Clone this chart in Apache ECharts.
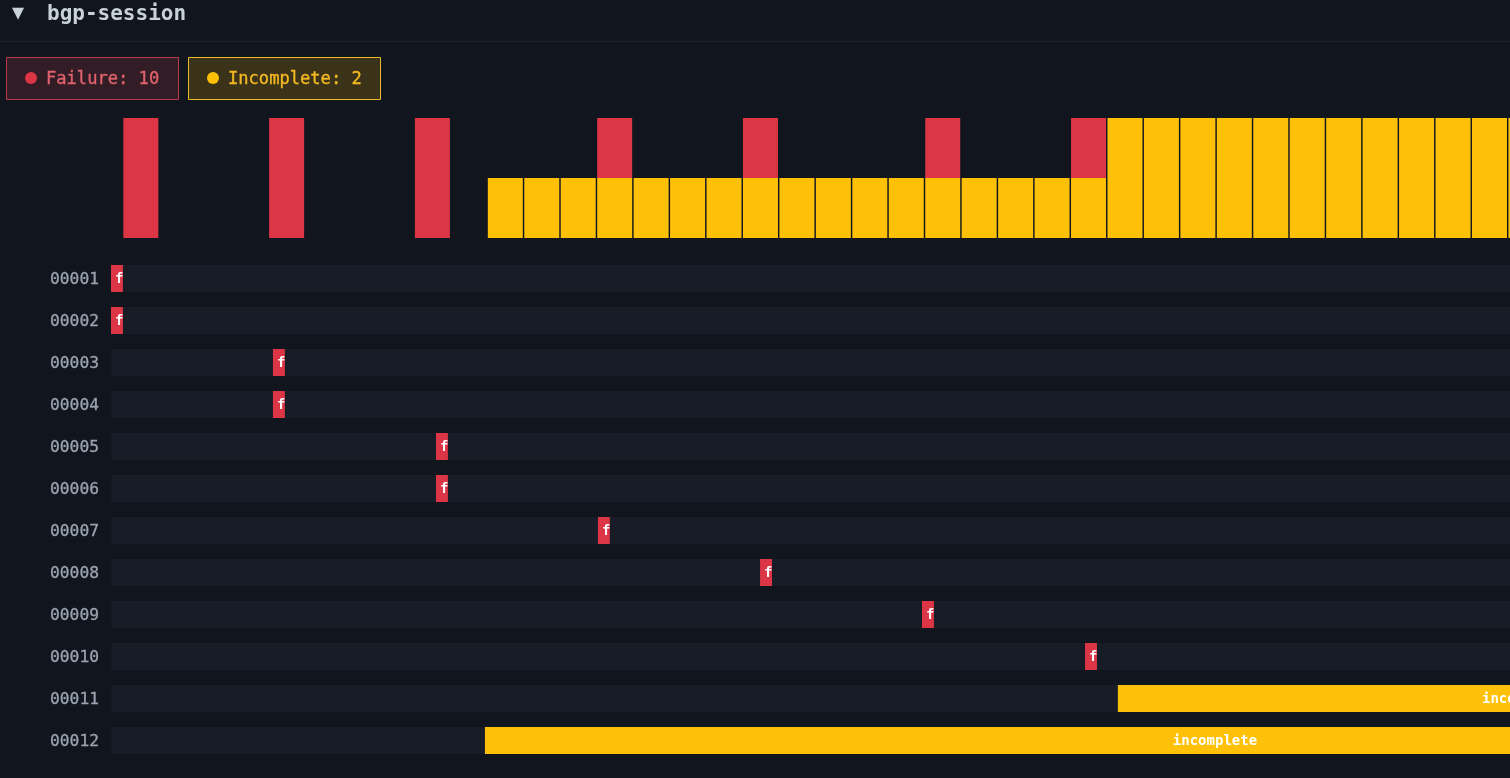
<!DOCTYPE HTML>
<html>
<head>
    <meta charset="utf-8">
    <title>bgp-session</title>
    <style>
        html, body { margin: 0; padding: 0; background: #11161e; overflow: hidden; }
        #container { width: 1510px; height: 778px; }
    </style>
</head>
<body>
<div id="container"></div>
<script src="https://cdn.jsdelivr.net/npm/echarts@6/dist/echarts.min.js"></script>
<script>
    var MONO = '"DejaVu Sans Mono", monospace';
    var RED = '#dc3545';
    var YELLOW = '#ffc107';

    // histogram bins
    var binLabels = [];
    for (var b = 0; b < 50; b++) binLabels.push('b' + b);
    var failureBins = [2,0,0,0,2,0,0,0,2,0, 0,0,0,1,0,0,0,1,0,0, 0,0,1,0,0,0,1,0,0,0, 0,0,0,0,0,0,0,0,0,0, 0,0,0,0,0,0,0,0,0,0];
    var incompleteBins = [0,0,0,0,0,0,0,0,0,0, 1,1,1,1,1,1,1,1,1,1, 1,1,1,1,1,1,1,2,2,2, 2,2,2,2,2,2,2,2,2,2, 2,2,2,2,2,2,2,2,2,2];

    // timeline rows
    var rowNames = ['00001','00002','00003','00004','00005','00006','00007','00008','00009','00010','00011','00012'];
    var rowStatus = ['failure','failure','failure','failure','failure','failure','failure','failure','failure','failure','incomplete','incomplete'];
    var rowStart = [0, 0, 88.3, 88.3, 177.2, 177.2, 265.5, 353.9, 442.2, 531.1, 549, 203.9];
    var rowEnd = [6.5, 6.5, 94.8, 94.8, 183.7, 183.7, 272, 360.4, 448.7, 537.6, 992, 1000];

    var failureCount = rowStatus.filter(function (s) { return s === 'failure'; }).length;
    var incompleteCount = rowStatus.filter(function (s) { return s === 'incomplete'; }).length;

    function legendBox(x, width, color, border, fill, textColor, text) {
        return {
            type: 'group',
            children: [
                { type: 'rect', shape: { x: x + 0.5, y: 57.5, width: width, height: 42 }, style: { fill: fill, stroke: border, lineWidth: 1 } },
                { type: 'circle', shape: { cx: x + 25, cy: 78, r: 6 }, style: { fill: color } },
                {
                    type: 'text', x: x + 40, y: 80,
                    style: { text: text, fill: textColor, font: '17.1px ' + MONO, verticalAlign: 'middle', stroke: textColor, lineWidth: 0.35 }
                }
            ]
        };
    }

    function renderRow(params, api) {
        var row = api.value(0);
        var startPt = api.coord([api.value(1), row]);
        var endPt = api.coord([api.value(2), row]);
        var trackLeft = api.coord([0, row])[0];
        var trackRight = api.coord([1000, row])[0];
        var h = 27;
        var top = startPt[1] - h / 2;
        var status = rowStatus[params.dataIndex];
        var w = endPt[0] - startPt[0];
        var fits = w > 90;
        return {
            type: 'group',
            children: [
                { type: 'rect', shape: { x: trackLeft + 0.5, y: top, width: trackRight - trackLeft, height: h }, style: { fill: '#181c27' } },
                { type: 'rect', shape: { x: startPt[0], y: top, width: w, height: h }, style: { fill: status === 'failure' ? RED : YELLOW } },
                {
                    type: 'group',
                    clipPath: { type: 'rect', shape: { x: startPt[0], y: top, width: w, height: h } },
                    children: [{
                        type: 'text',
                        x: fits ? startPt[0] + w / 2 : startPt[0] + 4,
                        y: startPt[1] + 1,
                        style: {
                            text: status,
                            fill: '#ffffff',
                            font: 'bold 14px ' + MONO,
                            align: fits ? 'center' : 'left',
                            verticalAlign: 'middle'
                        }
                    }]
                }
            ]
        };
    }

    var myChart = echarts.init(document.getElementById('container'), null, { renderer: 'canvas' });
    var option = {
        animation: false,
        backgroundColor: '#11161e',
        graphic: [
            { type: 'text', x: 12, y: 14, style: { text: '▼', fill: '#c9d1d9', font: '20px ' + MONO, verticalAlign: 'middle' } },
            { type: 'text', x: 47, y: 15, style: { text: 'bgp-session', fill: '#c9d1d9', font: 'bold 21px ' + MONO, verticalAlign: 'middle' } },
            { type: 'rect', shape: { x: 0, y: 41, width: 1510, height: 1 }, style: { fill: '#1e232c' } },
            legendBox(6, 172, RED, '#b93a4a', '#321c26', '#e0626c', 'Failure: ' + failureCount),
            legendBox(188, 192, YELLOW, '#e9bb2c', '#3a331a', '#f5b921', 'Incomplete: ' + incompleteCount)
        ],
        grid: [
            { left: 122.6, top: 118, width: 1822.5, height: 120, outerBoundsMode: 'none' },
            { left: 111, top: 257.5, width: 1834, height: 504, outerBoundsMode: 'none' }
        ],
        xAxis: [
            { gridIndex: 0, type: 'category', data: binLabels, show: false },
            { gridIndex: 1, type: 'value', min: 0, max: 1000, show: false }
        ],
        yAxis: [
            { gridIndex: 0, type: 'value', min: 0, max: 2, show: false },
            {
                gridIndex: 1,
                type: 'category',
                inverse: true,
                data: rowNames,
                axisLine: { show: false },
                axisTick: { show: false },
                splitLine: { show: false },
                axisLabel: {
                    margin: 12,
                    formatter: '{a|{value}}',
                    rich: {
                        a: {
                            color: '#9aa3af', fontFamily: MONO, fontSize: 16.3, padding: [3, 0, 0, 0],
                            textBorderColor: '#9aa3af', textBorderWidth: 0.3
                        }
                    }
                }
            }
        ],
        series: [
            {
                name: 'Incomplete',
                type: 'bar',
                stack: 'bins',
                xAxisIndex: 0,
                yAxisIndex: 0,
                barWidth: 35,
                data: incompleteBins,
                itemStyle: { color: YELLOW }
            },
            {
                name: 'Failure',
                type: 'bar',
                stack: 'bins',
                xAxisIndex: 0,
                yAxisIndex: 0,
                barWidth: 35,
                data: failureBins,
                itemStyle: { color: RED }
            },
            {
                name: 'rows',
                type: 'custom',
                xAxisIndex: 1,
                yAxisIndex: 1,
                clip: false,
                encode: { x: [1, 2], y: 0 },
                renderItem: renderRow,
                data: rowNames.map(function (n, i) { return [i, rowStart[i], rowEnd[i]]; })
            }
        ]
    };
    myChart.setOption(option);
</script>
</body>
</html>
